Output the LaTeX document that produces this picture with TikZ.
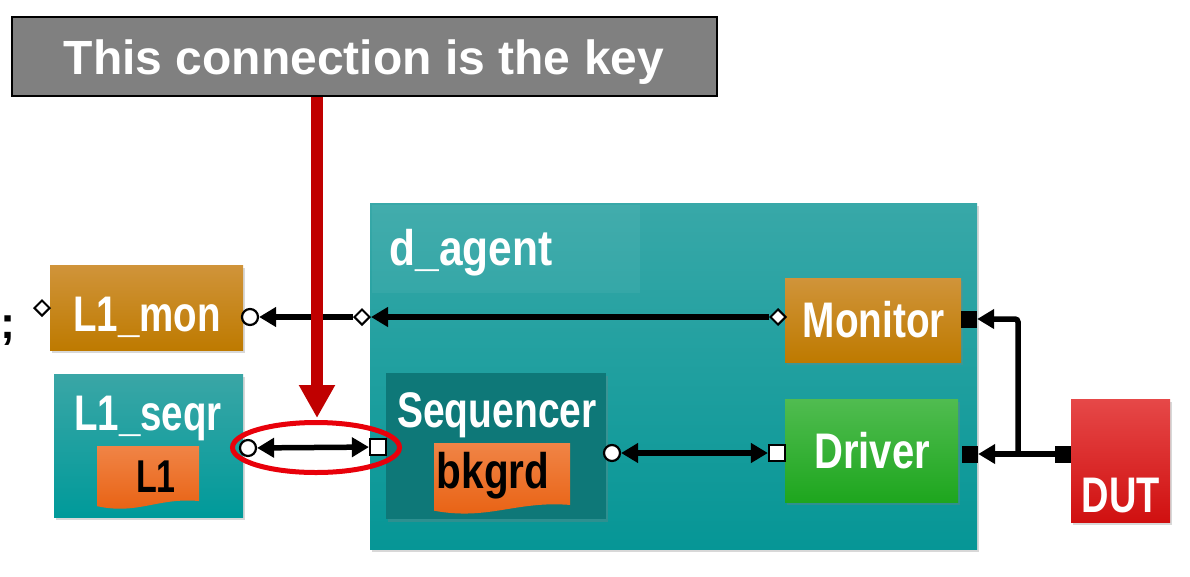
\documentclass[tikz,border=0pt]{standalone}
\usepackage{fontspec}
\setmainfont{Liberation Sans}
\usetikzlibrary{arrows.meta,shapes.geometric,shadows}
\definecolor{orTop}{RGB}{208,148,58}
\definecolor{orBot}{RGB}{190,122,0}
\definecolor{tlTop}{RGB}{58,166,166}
\definecolor{tlBot}{RGB}{0,154,154}
\definecolor{tsTop}{RGB}{56,168,168}
\definecolor{tsBot}{RGB}{6,150,150}
\definecolor{seqC}{RGB}{14,120,120}
\definecolor{tagTop}{RGB}{240,132,70}
\definecolor{tagBot}{RGB}{232,96,16}
\definecolor{grTop}{RGB}{80,188,80}
\definecolor{grBot}{RGB}{30,166,30}
\definecolor{rdTop}{RGB}{230,72,72}
\definecolor{rdBot}{RGB}{208,16,16}
\definecolor{keyred}{RGB}{192,0,0}
\definecolor{ringred}{RGB}{232,0,10}
\definecolor{titlegray}{RGB}{128,128,128}
\newcommand\nar[2]{\scalebox{#1}[1]{#2}}
\tikzset{
  box/.style={rectangle, inner sep=0pt, drop shadow={shadow xshift=2pt,shadow yshift=-3pt,opacity=0.3}},
  orbox/.style={box, top color=orTop, bottom color=orBot},
  lbl/.style={text=white, font=\bfseries\fontsize{50}{56}\selectfont, inner sep=0pt, anchor=base},
  tagtxt/.style={text=black, font=\bfseries\fontsize{50}{56}\selectfont, inner sep=0pt, anchor=base},
  portcirc/.style={circle, draw=black, fill=white, line width=2.2pt, inner sep=0pt, minimum size=16pt},
  portdia/.style={diamond, draw=black, fill=white, line width=2pt, inner sep=0pt, minimum size=16pt},
  portsq/.style={rectangle, draw=black, fill=white, line width=2.2pt, inner sep=0pt, minimum size=16pt},
  portblk/.style={rectangle, fill=black, inner sep=0pt, minimum width=16pt, minimum height=17pt},
  conn/.style={line width=5.5pt, black},
  tip/.tip={Triangle[length=17pt,width=19pt]},
}
\begin{document}
\begin{tikzpicture}[x=1pt,y=-1pt]
\useasboundingbox (0,0) rectangle (1190,576);
\fill[white] (0,0) rectangle (1190,576);
% agent
\node[box, top color=tsTop, bottom color=tsBot, minimum width=607pt, minimum height=346pt] (agent) at (673.5,376) {};
\fill[white, opacity=0.05] (372,205) rectangle (640,293);
\node[lbl] (agentlbl) at (471,265) {\nar{0.85}{d\_agent}};
% left boxes
\node[orbox, minimum width=193pt, minimum height=85pt] (l1mon) at (146.5,307.5) {};
\node[lbl] (l1montxt) at (147,331) {\nar{0.77}{L1\_mon}};
\node[box, top color=tlTop, bottom color=tlBot, minimum width=189pt, minimum height=143pt] (l1seqr) at (148.5,445.5) {};
\node[lbl] (l1seqrtxt) at (148,430) {\nar{0.77}{L1\_seqr}};
\begin{scope}[shift={(97,446)}, xscale=102, yscale=64]
  \shade[top color=tagTop, bottom color=tagBot] (0,0) -- (1,0) -- (1,0.86)
    .. controls (0.6,0.8) and (0.4,1.08) .. (0,0.94) -- cycle;
\end{scope}
\node[tagtxt, font=\bfseries\fontsize{46}{52}\selectfont] (l1tag) at (156,492) {\nar{0.74}{L1}};
% sequencer
\node[box, fill=seqC, minimum width=220pt, minimum height=146pt] (seq) at (496,446) {};
\node[lbl] (seqtxt) at (497,427) {\nar{0.78}{Sequencer}};
\begin{scope}[shift={(434,443)}, xscale=136, yscale=72]
  \shade[top color=tagTop, bottom color=tagBot] (0,0) -- (1,0) -- (1,0.86)
    .. controls (0.6,0.8) and (0.4,1.08) .. (0,0.94) -- cycle;
\end{scope}
\node[tagtxt] (bkgrd) at (493,488) {\nar{0.81}{bkgrd}};
% monitor, driver
\node[orbox, minimum width=176pt, minimum height=84pt] (mon) at (873,320) {};
\node[lbl] (montxt) at (874,337) {\nar{0.775}{Monitor}};
\node[box, top color=grTop, bottom color=grBot, minimum width=173pt, minimum height=103pt] (drv) at (871.5,450.5) {};
\node[lbl] (drvtxt) at (872,468) {\nar{0.8}{Driver}};
% DUT
\node[box, top color=rdTop, bottom color=rdBot, minimum width=99pt, minimum height=123pt] (dut) at (1120.5,460.5) {};
\node[lbl] (duttxt) at (1121,512) {\nar{0.76}{DUT}};
% stray semicolon
\node[text=black, font=\bfseries\fontsize{45}{50}\selectfont, inner sep=0pt, anchor=base west] (semi) at (0,338) {;};
% ports
\node[portdia] (l1mondia) at (42,308) {};
\node[portcirc] (l1moncirc) at (250,317) {};
\node[portdia] (agdia) at (362,317) {};
\node[portdia] (mondia) at (778,317) {};
\node[portblk] (monblk) at (969,319) {};
\node[portcirc] (l1seqcirc) at (248,448) {};
\node[portsq] (seqsq) at (378,447) {};
\node[portcirc] (seqcirc) at (612,453) {};
\node[portsq] (drvsq) at (777,453) {};
\node[portblk] (drvblk) at (970,454) {};
\node[portblk] (dutblk) at (1063,454) {};
\coordinate (junc) at (1018,454);
% connectors
\draw[conn,-tip] (mondia) -- (agdia);
\draw[conn,-tip] (agdia) -- (l1moncirc);
\draw[conn,tip-tip] (l1seqcirc) -- (seqsq);
\draw[conn,tip-tip] (seqcirc) -- (drvsq);
\draw[conn] (dutblk.west) -- (junc);
\draw[conn,-tip,rounded corners=3pt] (junc) |- (monblk);
\draw[conn,-tip] (junc) -- (drvblk);
% title and key arrow
\node[rectangle, draw=black, line width=1.5pt, fill=titlegray, minimum width=705pt, minimum height=79pt, inner sep=0pt] (title) at (364.5,56.5) {};
\node[text=white, font=\bfseries\fontsize{48}{54}\selectfont, inner sep=0pt, anchor=base] (titletxt) at (364,74) {This connection is the key};
\coordinate (keytip) at (317,418);
\draw[keyred, line width=12pt, -{Triangle[length=33pt,width=34pt]}] (title.south -| keytip) -- (keytip);
\node[ellipse, draw=ringred, line width=5pt, minimum width=167pt, minimum height=50pt, inner sep=0pt] (ring) at (316,447.5) {};
\end{tikzpicture}
\end{document}
